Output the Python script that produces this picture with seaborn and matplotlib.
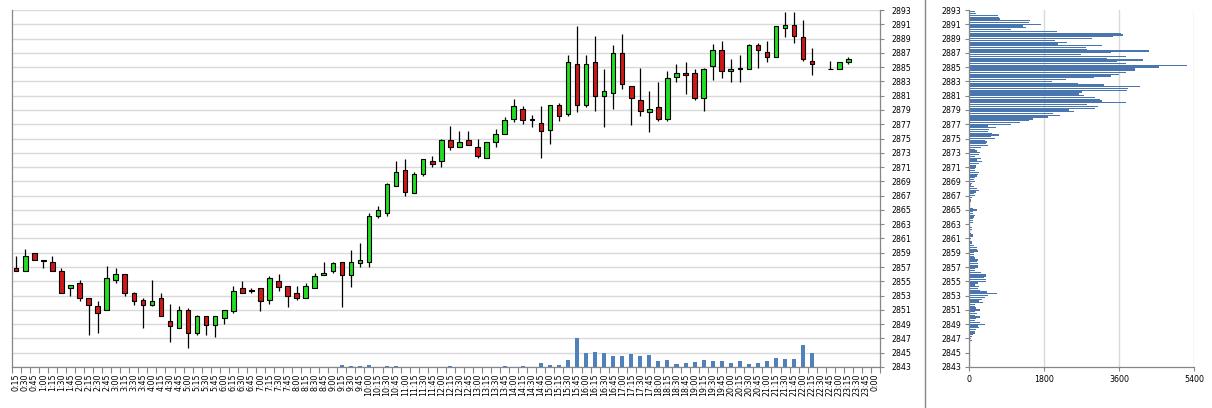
import numpy as np
import pandas as pd
import matplotlib
matplotlib.use("Agg")
import matplotlib.pyplot as plt
from matplotlib.lines import Line2D
import seaborn as sns

sns.set_theme(style="white")
plt.rcParams["font.family"] = ["DejaVu Sans"]

# ---------------- data ----------------
times = ["0:15", "0:30", "0:45", "1:00", "1:15", "1:30", "1:45", "2:00", "2:15", "2:30", "2:45", "3:00",
         "3:15", "3:30", "3:45", "4:00", "4:15", "4:30", "4:45", "5:00", "5:15", "5:30", "5:45", "6:00",
         "6:15", "6:30", "6:45", "7:00", "7:15", "7:30", "7:45", "8:00", "8:15", "8:30", "8:45", "9:00",
         "9:15", "9:30", "9:45", "10:00", "10:15", "10:30", "10:45", "11:00", "11:15", "11:30", "11:45", "12:00",
         "12:15", "12:30", "12:45", "13:00", "13:15", "13:30", "13:45", "14:00", "14:15", "14:30", "14:45", "15:00",
         "15:15", "15:30", "15:45", "16:00", "16:15", "16:30", "16:45", "17:00", "17:15", "17:30", "17:45", "18:00",
         "18:15", "18:30", "18:45", "19:00", "19:15", "19:30", "19:45", "20:00", "20:15", "20:30", "20:45", "21:00",
         "21:15", "21:30", "21:45", "22:00", "22:15", "22:30", "22:45", "23:00", "23:15", "23:30", "23:45", "0:00"]

nan = np.nan
opens = [2856.9, 2856.4, 2859.0, 2858.0, 2857.75, 2856.5, 2854.0, 2854.7, 2852.7, 2851.5, 2851.0, 2855.2,
         2856.0, 2853.3, 2852.4, 2851.7, 2852.7, 2849.5, 2848.5, 2851.0, 2847.7, 2850.1, 2848.9, 2849.8,
         2850.8, 2854.0, 2853.75, 2854.0, 2852.4, 2855.0, 2854.3, 2853.4, 2852.7, 2854.0, 2855.9, 2856.5,
         2857.75, 2855.9, 2857.5, 2857.75, 2864.2, 2864.5, 2868.4, 2870.6, 2867.4, 2870.0, 2871.8, 2871.8,
         2874.8, 2873.8, 2874.8, 2873.8, 2872.25, 2874.5, 2875.7, 2877.8, 2879.2, 2877.6, 2877.2, 2876.2,
         2879.7, 2878.4, 2885.4, 2879.7, 2885.7, 2880.9, 2881.4, 2887.0, 2882.4, 2880.4, 2878.7, 2879.4,
         2877.7, 2883.6, 2884.2, 2884.2, 2880.7, 2885.2, 2887.4, 2884.5, 2884.85, 2884.8, 2888.1, 2887.1,
         2886.4, 2890.5, 2890.9, 2889.2, 2885.9, nan, 2884.8, 2884.75, 2885.7, nan, nan, nan]
highs = [2858.5, 2859.5, 2859.0, 2858.0, 2858.5, 2856.8, 2854.5, 2855.2, 2852.7, 2852.2, 2857.2, 2856.9,
         2856.0, 2853.5, 2852.7, 2855.2, 2853.3, 2851.8, 2851.5, 2851.2, 2850.3, 2850.1, 2850.1, 2851.0,
         2854.3, 2855.0, 2854.0, 2854.0, 2855.8, 2856.0, 2854.4, 2854.3, 2854.7, 2856.2, 2857.75, 2857.75,
         2857.75, 2859.4, 2860.4, 2864.5, 2865.5, 2868.8, 2871.8, 2872.1, 2870.3, 2872.2, 2872.5, 2874.9,
         2876.7, 2876.0, 2876.0, 2875.0, 2874.5, 2876.3, 2878.0, 2880.5, 2879.5, 2878.25, 2879.5, 2879.7,
         2880.0, 2886.7, 2890.7, 2886.7, 2889.3, 2884.7, 2888.1, 2889.6, 2882.4, 2884.9, 2881.7, 2882.9,
         2884.5, 2885.45, 2885.7, 2884.7, 2884.9, 2888.2, 2888.7, 2886.1, 2886.7, 2888.3, 2888.4, 2888.7,
         2890.7, 2892.7, 2892.7, 2891.6, 2887.7, nan, 2885.9, 2885.7, 2886.4, nan, nan, nan]
lows = [2856.4, 2856.4, 2858.0, 2856.9, 2856.4, 2853.3, 2852.9, 2852.2, 2847.5, 2847.7, 2851.0, 2854.7,
        2852.9, 2851.7, 2848.5, 2851.5, 2850.1, 2846.5, 2848.5, 2845.7, 2847.5, 2847.5, 2847.2, 2849.0,
        2850.5, 2853.3, 2853.4, 2850.8, 2851.8, 2853.6, 2851.4, 2852.4, 2852.7, 2854.0, 2855.9, 2856.2,
        2851.4, 2854.2, 2857.0, 2857.0, 2863.8, 2864.1, 2868.4, 2867.0, 2867.3, 2869.7, 2871.0, 2871.0,
        2873.45, 2873.8, 2874.1, 2872.25, 2872.25, 2873.8, 2875.7, 2877.3, 2877.0, 2876.6, 2872.25, 2874.3,
        2877.4, 2878.1, 2878.7, 2879.4, 2878.9, 2876.6, 2879.1, 2881.9, 2876.9, 2878.2, 2875.9, 2877.4,
        2877.4, 2882.9, 2881.25, 2880.4, 2878.8, 2883.2, 2883.5, 2882.9, 2882.9, 2884.7, 2884.9, 2885.7,
        2886.4, 2889.2, 2888.4, 2885.9, 2883.9, nan, 2884.7, 2884.75, 2885.45, nan, nan, nan]
closes = [2856.4, 2858.5, 2858.0, 2857.8, 2856.4, 2853.3, 2854.5, 2852.7, 2851.7, 2850.5, 2855.5, 2856.0,
          2853.4, 2852.3, 2851.7, 2852.3, 2850.1, 2848.7, 2851.0, 2847.7, 2850.1, 2848.9, 2850.1, 2851.0,
          2853.7, 2853.4, 2853.7, 2852.3, 2855.5, 2854.2, 2853.0, 2852.7, 2854.3, 2855.8, 2856.2, 2857.5,
          2855.9, 2857.75, 2858.0, 2864.2, 2865.0, 2868.6, 2870.3, 2867.5, 2870.0, 2872.1, 2871.5, 2874.8,
          2873.8, 2874.5, 2874.1, 2872.5, 2874.5, 2875.7, 2877.6, 2879.5, 2877.6, 2877.8, 2876.0, 2879.7,
          2878.2, 2885.7, 2879.7, 2885.4, 2880.9, 2881.7, 2887.0, 2882.65, 2880.7, 2878.9, 2879.15, 2877.7,
          2883.5, 2884.2, 2883.9, 2880.7, 2884.75, 2887.4, 2884.5, 2884.75, 2884.8, 2888.1, 2887.4, 2886.4,
          2890.7, 2890.9, 2889.4, 2886.1, 2885.45, nan, 2884.8, 2885.7, 2886.1, nan, nan, nan]

volume = [0, 0, 0, 0, 0, 0, 0, 0, 0, 0, 0, 0,
          0, 0, 0, 0, 0, 0, 0, 0, 0, 0, 0, 0,
          0, 0, 0, 0, 0, 0, 0, 0, 0, 0, 0, 0,
          20, 10, 10, 20, 0, 10, 10, 0, 0, 0, 0, 0,
          10, 0, 0, 0, 0, 0, 10, 0, 10, 0, 40, 20,
          20, 70, 290, 140, 150, 140, 110, 110, 130, 110, 120, 60,
          70, 30, 40, 50, 70, 60, 60, 40, 60, 30, 40, 60,
          90, 80, 80, 220, 140, 0, 0, 0, 0, 0, 0, 0]

# price profile: top level 2892.75, step 0.25 going down
profile_top = 2892.75
profile_step = 0.25
profile_vals = [136, 160, 688, 704, 728, 1448, 1424, 1712, 1280, 1352, 992, 2096, 3632, 3680, 3440, 2944,
                2048, 2336, 2120, 3176, 2792, 2816, 4304, 3392, 2672, 3752, 3296, 4160, 3536, 3752, 5216,
                4544, 3968, 3968, 3752, 3584, 3392, 2984, 2312, 1976, 2600, 3224, 4088, 3800, 3776, 2696,
                2632, 2760, 3008, 3128, 3176, 3752, 2816, 3080, 3008, 2400, 2512, 2008, 2176, 1880, 1520,
                1424, 1216, 1000,
                456, 640, 472, 448, 544, 712, 520, 616, 376, 424, 400, 448, 280, 136, 184, 256, 232, 136,
                280, 184, 304, 232, 160, 160, 136, 136, 232, 208, 184, 136, 112, 136, 56, 40, 112, 184,
                232, 160, 112, 136, 56, 40, 32, 8, 0, 0, 96, 184, 88, 88, 136, 112, 88, 88, 88, 8, 0, 56,
                56, 8, 32, 80, 80, 32, 8, 56, 56, 104, 176,
                184, 208, 112, 112, 112, 136, 208, 184, 208, 208, 208, 136, 136, 280, 400, 400, 352, 400,
                400, 208, 136, 232, 208, 256, 424, 664, 448, 376, 304, 232, 328, 136, 136, 160, 256, 136,
                184, 136, 256, 160, 136, 256, 376, 208, 232, 160, 136, 136, 88, 56, 32, 56]

price_ticks = list(range(2843, 2894, 2))
profile_ticks = [0, 1800, 3600, 5400]

# ---------------- style ----------------
GREEN = "#22dd22"
RED = "#d01818"
VOLC = "#4f81bd"
PROFC = "#4a76b0"
AXC = "#868686"
GRIDC = "#d9d9d9"
FS = 5.7

W, H = 1212, 408
fig = plt.figure(figsize=(W / 100, H / 100), dpi=100)
ax = fig.add_axes([11.7 / W, 1 - 367 / H, (880 - 11.7) / W, 357 / H])
ax2 = ax.twinx()
axh = fig.add_axes([969.3 / W, 1 - 367 / H, 225 / W, 357 / H])

df = pd.DataFrame({"time": times, "open": opens, "high": highs, "low": lows, "close": closes})
valid = df.dropna()
up = valid[valid["close"] >= valid["open"]]
dn = valid[valid["close"] < valid["open"]]

# wicks
ax.vlines(valid.index, valid["low"], valid["high"], color="black", lw=0.9, zorder=2)
# bodies
for sub, col in [(up, GREEN), (dn, RED)]:
    sns.barplot(x=sub["time"], y=(sub["close"] - sub["open"]).abs().values,
                bottom=np.minimum(sub["open"], sub["close"]).values,
                order=times, color=col, saturation=1, width=0.5, errorbar=None,
                edgecolor="black", linewidth=0.8, ax=ax, zorder=3)

# volume on hidden twin axis
sns.barplot(x=times, y=volume, order=times, color=VOLC, saturation=1, width=0.45,
            errorbar=None, linewidth=0, ax=ax2)
ax2.set_ylim(0, 3570)
ax2.yaxis.set_visible(False)
ax2.xaxis.set_visible(False)
for s in ax2.spines.values():
    s.set_visible(False)

ax.set_ylim(2843, 2893)
ax.set_xlim(-0.5, len(times) - 0.5)
ax.set_yticks(price_ticks)
ax.set_yticklabels([str(t) for t in price_ticks])
ax.yaxis.tick_right()
ax.grid(axis="y", color=GRIDC, lw=1)
ax.grid(axis="x", visible=False)
ax.set_axisbelow(True)
ax.set_xticks(range(len(times)))
ax.set_xticklabels(times, rotation=90, fontsize=FS)
ax.set_xticks(np.arange(-0.5, len(times), 1), minor=True)
ax.tick_params(axis="x", which="major", length=0, pad=5, labelsize=FS, colors="black")
ax.tick_params(axis="x", which="minor", bottom=True, length=4, width=0.8, color=AXC, direction="out")
ax.tick_params(axis="y", which="major", right=True, left=False, length=3, width=0.8, color=AXC,
               direction="out", pad=5, labelsize=FS, labelcolor="black")
ax.set_xlabel("")
ax.set_ylabel("")
for name, s in ax.spines.items():
    s.set_color(AXC)
    s.set_linewidth(0.9)
ax.spines["top"].set_visible(False)

# price profile
levels = profile_top - profile_step * np.arange(len(profile_vals))
sns.barplot(x=profile_vals, y=levels, orient="h", native_scale=True, color=PROFC, saturation=1,
            width=0.7, errorbar=None, linewidth=0, ax=axh)
axh.set_ylim(2843, 2893)
axh.set_xlim(0, 5400)
axh.set_yticks(price_ticks)
axh.set_yticklabels([str(t) for t in price_ticks])
axh.set_xticks(profile_ticks)
axh.set_xticklabels([str(t) for t in profile_ticks])
axh.grid(axis="x", color=GRIDC, lw=1)
axh.grid(axis="y", visible=False)
axh.set_axisbelow(True)
axh.tick_params(axis="both", length=3, width=0.8, color=AXC, direction="out", labelsize=FS,
                labelcolor="black", left=True, bottom=True, pad=3)
axh.set_xlabel("")
axh.set_ylabel("")
for name, s in axh.spines.items():
    s.set_color(AXC)
    s.set_linewidth(0.9)
axh.spines["top"].set_visible(False)
axh.spines["right"].set_visible(False)

# panel separator
fig.add_artist(Line2D([924.5 / W, 924.5 / W], [0, 1], color=AXC, lw=1))

fig.savefig("out.png", dpi=100)
